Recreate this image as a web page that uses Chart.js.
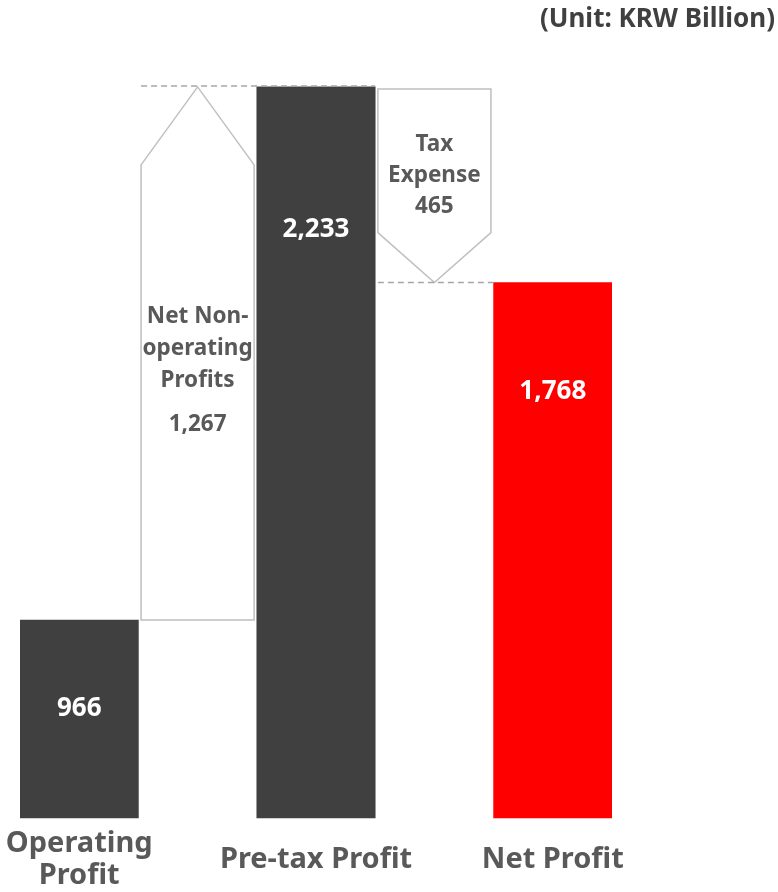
<!DOCTYPE html>
<html>
<head>
<meta charset="utf-8">
<script src="https://cdn.jsdelivr.net/npm/chart.js@4.4.1/dist/chart.umd.min.js"></script>
<style>
  html, body { margin: 0; background: #fff; overflow: hidden; }
  #wrap { width: 778px; height: 892px; position: relative; }
</style>
</head>
<body>
<div id="wrap"><canvas id="chart"></canvas></div>
<script>
// categories along x: totals and the steps between them
const categories = [["Operating", "Profit"], "", "Pre-tax Profit", "", "Net Profit"];
const totals = [966, null, 2233, null, 1768];
const changes = [null, 1267, null, -465, null];
const changeNames = [null, ["Net Non-", "operating", "Profits"], null, ["Tax", "Expense"], null];
const barColors = ["#404040", null, "#404040", null, "#ff0000"];
const unitText = "(Unit: KRW Billion)";

const FONT = "'Noto Sans', sans-serif";
const fmt = v => Math.abs(v).toLocaleString("en-US");

// floating range for each step, starting at the previous total
const stepRanges = changes.map((c, i) => c == null ? null : [totals[i - 1], totals[i - 1] + c]);

const waterfall = {
  id: "waterfall",
  afterDatasetsDraw(chart) {
    const ctx = chart.ctx;
    const bars = chart.getDatasetMeta(0).data;
    const arrows = chart.getDatasetMeta(1).data;
    ctx.save();

    // step arrows
    ctx.strokeStyle = "#bfbfbf";
    ctx.lineWidth = 1.5;
    arrows.forEach((el, i) => {
      if (changes[i] == null) return;
      const p = el.getProps(["x", "y", "base", "width"], true);
      const top = Math.min(p.y, p.base), bottom = Math.max(p.y, p.base);
      const l = p.x - p.width / 2, r = p.x + p.width / 2;
      ctx.beginPath();
      if (changes[i] > 0) {
        const head = 78;
        ctx.moveTo(l, bottom);
        ctx.lineTo(l, top + head);
        ctx.lineTo(p.x, top);
        ctx.lineTo(r, top + head);
        ctx.lineTo(r, bottom);
      } else {
        const head = 50;
        ctx.moveTo(l, top + 2);
        ctx.lineTo(r, top + 2);
        ctx.lineTo(r, bottom - head);
        ctx.lineTo(p.x, bottom);
        ctx.lineTo(l, bottom - head);
      }
      ctx.closePath();
      ctx.fillStyle = "#fff";
      ctx.fill();
      ctx.stroke();

      // dashed connector to the next total
      const next = bars[i + 1];
      ctx.save();
      ctx.setLineDash([6, 4]);
      ctx.strokeStyle = "#a6a6a6";
      ctx.beginPath();
      if (changes[i] > 0) {
        ctx.moveTo(l, top - 1);
        ctx.lineTo(next.x + next.width / 2, top - 1);
      } else {
        ctx.moveTo(l, bottom);
        ctx.lineTo(next.x - next.width / 2, bottom);
      }
      ctx.stroke();
      ctx.restore();

      // step text
      ctx.fillStyle = "#595959";
      ctx.font = "bold 22.5px " + FONT;
      ctx.textAlign = "center";
      ctx.textBaseline = "middle";
      const names = changeNames[i];
      if (changes[i] > 0) {
        let ty = top + 230;
        names.forEach((s, k) => ctx.fillText(s, p.x, ty + k * 32));
        ctx.fillText(fmt(changes[i]), p.x, ty + (names.length - 1) * 32 + 44);
      } else {
        let ty = top + 58;
        names.forEach((s, k) => ctx.fillText(s, p.x, ty + k * 31));
        ctx.fillText(fmt(changes[i]), p.x, ty + names.length * 31);
      }
    });

    // total values inside bars
    const offsets = [89, 143, 109];
    let n = 0;
    ctx.fillStyle = "#fff";
    ctx.font = "bold 26px " + FONT;
    ctx.textAlign = "center";
    ctx.textBaseline = "middle";
    bars.forEach((el, i) => {
      if (totals[i] == null) return;
      const p = el.getProps(["x", "y"], true);
      ctx.fillText(fmt(totals[i]), p.x, p.y + offsets[n++]);
    });

    // unit note
    ctx.fillStyle = "#404040";
    ctx.font = "bold 26px " + FONT;
    ctx.textAlign = "right";
    ctx.fillText(unitText, chart.width - 3, 20);
    ctx.restore();
  }
};

new Chart(document.getElementById("chart"), {
  type: "bar",
  data: {
    labels: categories,
    datasets: [
      {
        data: totals,
        backgroundColor: barColors.map(c => c || "transparent"),
        barPercentage: 1,
        categoryPercentage: 1,
        grouped: false
      },
      {
        data: stepRanges,
        backgroundColor: "transparent",
        barPercentage: 0.955,
        categoryPercentage: 1,
        grouped: false
      }
    ]
  },
  options: {
    responsive: true,
    maintainAspectRatio: false,
    animation: false,
    // ticks padding is counted twice in the axis height, so pull the bottom back
    layout: { padding: { left: 20, right: 166, top: 44, bottom: -42 } },
    plugins: { legend: { display: false }, tooltip: { enabled: false } },
    scales: {
      x: {
        grid: { display: false, drawTicks: false },
        border: { display: false },
        afterFit(scale) {
          scale.paddingLeft = 0;
          scale.paddingRight = 0;
        },
        ticks: {
          color: "#595959",
          font: { family: FONT, size: 29, weight: "bold", lineHeight: 1.1 },
          padding: 26,
          crossAlign: "center",
          maxRotation: 0,
          autoSkip: false
        }
      },
      y: {
        display: false,
        min: 495,
        max: 2335
      }
    }
  },
  plugins: [waterfall]
});
</script>
</body>
</html>
